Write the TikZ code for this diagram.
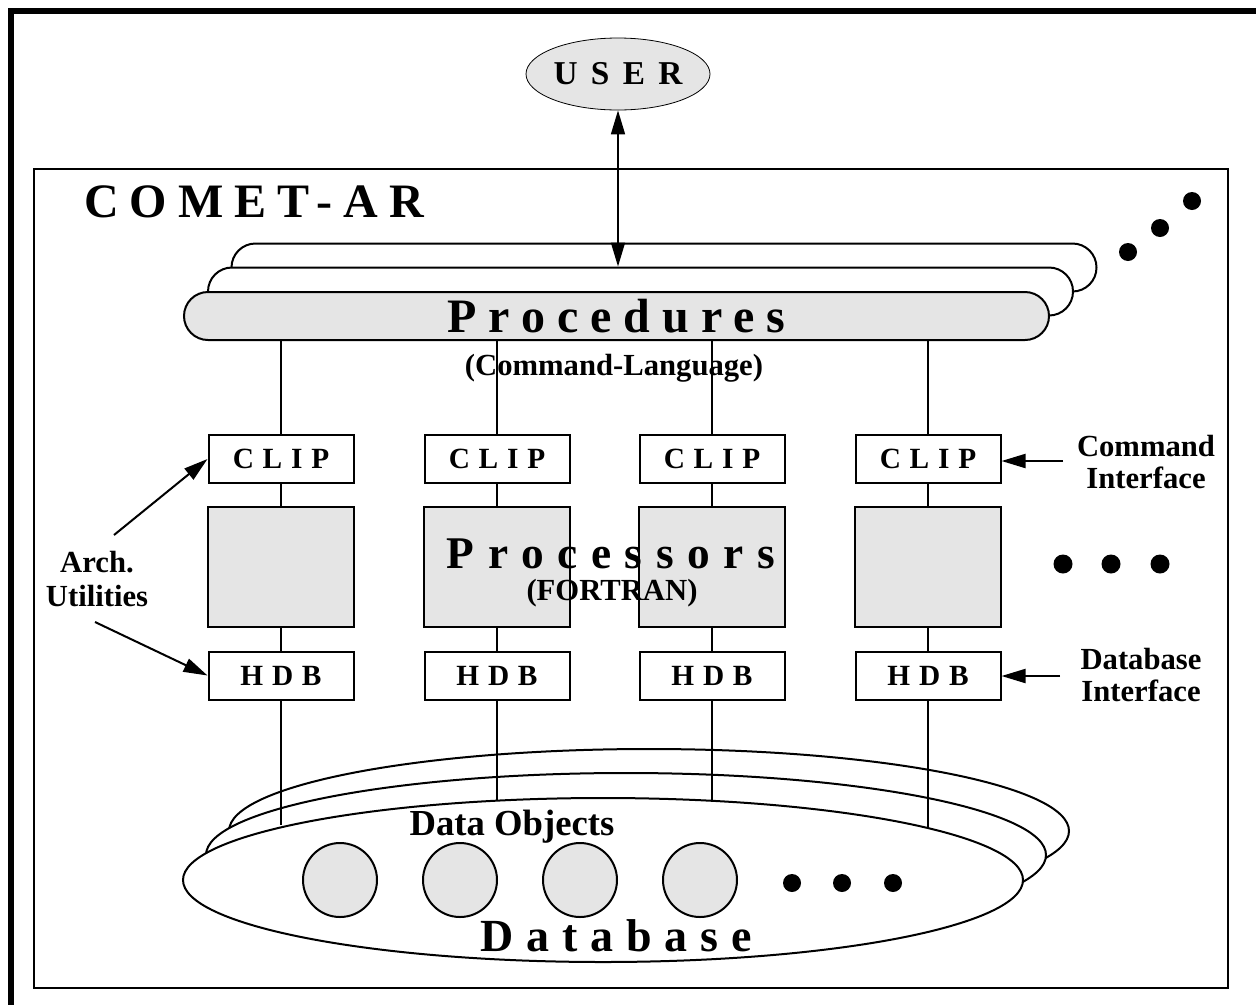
\documentclass[tikz,border=0pt]{standalone}
\usepackage{fontspec}
\setmainfont{Liberation Serif}
\usetikzlibrary{arrows.meta,shapes.geometric}
\definecolor{lgray}{HTML}{E5E5E5}
\newcommand\lsp[2]{{\addfontfeature{LetterSpace=#1}#2}}
\begin{document}
\begin{tikzpicture}[x=0.75pt,y=-0.75pt,
  ribbon/.style={draw, line width=1.5pt, rounded corners=18pt, minimum width=648.75pt, minimum height=36pt, inner sep=0pt},
  ifbox/.style={draw, line width=1.5pt, fill=white, minimum width=108.75pt, minimum height=36pt, inner sep=0pt, font=\bfseries\fontsize{22}{24}\selectfont},
  procbox/.style={fill=lgray, minimum width=108.75pt, minimum height=90pt, inner sep=0pt},
  dbell/.style={ellipse, draw, line width=1.5pt, fill=white, minimum width=630pt, minimum height=123pt, inner sep=0pt},
  obj/.style={circle, draw, line width=1.5pt, fill=lgray, minimum size=55.5pt, inner sep=0pt},
  conn/.style={line width=1pt},
  arr/.style={line width=1.5pt, -{Triangle[length=18pt,width=10.5pt]}},
  txt/.style={font=\bfseries\fontsize{23}{24.5}\selectfont, inner sep=0pt, align=center},
  bigtxt/.style={font=\bfseries\fontsize{36}{38}\selectfont, inner sep=0pt}
]
\useasboundingbox (0,0) rectangle (1256,1004);
% frames
\draw[line width=4pt] (11,1030) -- (11,11) -- (1280,11);
\draw[line width=1.5pt] (34,169) rectangle (1228,988);

% user
\node[ellipse, draw, line width=0.6pt, fill=lgray, minimum width=138pt, minimum height=54pt, inner sep=0pt,
      font=\bfseries\fontsize{25}{26}\selectfont] (user) at (618,74) {\lsp{40}{USER}};

% COMET-AR title
\node[bigtxt, anchor=base west] (title) at (84,217) {\lsp{23}{COMET-AR}};

% procedures ribbons
\node[ribbon, fill=white] (procb) at (664,267.5) {};
\node[ribbon, fill=white] (procm) at (640.5,291.5) {};
\node[ribbon, fill=lgray, bigtxt] (procf) at (616.5,316) {\lsp{25}{Procedures}};

% user arrow
\draw[line width=1.2pt, {Triangle[length=18pt,width=10.5pt]}-{Triangle[length=18pt,width=10.5pt]}]
  (user) -- (user.south |- procm.north);

\node[txt, anchor=base] (cmdlang) at (614,375) {(Command-Language)};

% top-right dots
\fill (1128,252) circle[radius=9];
\fill (1160,228) circle[radius=9];
\fill (1192,201) circle[radius=9];

% database ellipses
\node[dbell] (dbb) at (649,831) {};
\node[dbell] (dbm) at (626,855) {};
\node[dbell] (db) at (603,880) {};

% columns
\foreach \i/\x in {1/281,2/497,3/712,4/928}{
  \node[ifbox] (clip\i) at (\x,459) {\lsp{30}{CLIP}};
  \node[procbox] (pr\i) at (\x,567) {};
  \node[ifbox] (hdb\i) at (\x,675.5) {\lsp{30}{HDB}};
}

% processors label
\node[font=\bfseries\fontsize{34}{36}\selectfont, inner sep=0pt, anchor=base] (ptxt) at (611,568) {\lsp{30}{Processors}};
\node[txt, anchor=base] (ftxt) at (612,600) {(FORTRAN)};
\foreach \i in {1,...,4}{
  \draw[line width=1.5pt] (pr\i.south west) rectangle (pr\i.north east);
}

% connectors
\foreach \i in {1,...,4}{
  \draw[conn] (procf.south -| clip\i.north) -- (clip\i.north);
  \draw[conn] (clip\i.south) -- (pr\i.north);
  \draw[conn] (pr\i.south) -- (hdb\i.north);
}
\foreach \i/\a in {1/170.7,2/143.2,3/36.0,4/9.1}{
  \draw[conn] (hdb\i.south) -- (hdb\i.south |- db.\a);
}

% processor dots
\fill (1063,564) circle[radius=9.5];
\fill (1111,564) circle[radius=9.5];
\fill (1160,564) circle[radius=9.5];

% side labels
\node[txt, font=\bfseries\fontsize{23}{25.5}\selectfont] (arch) at (97,579) {Arch.\\Utilities};
\coordinate (au) at (114,535);
\coordinate (ad) at (95,622);
\draw[arr] (au) -- (clip1.west);
\draw[arr] (ad) -- (hdb1.west);

\node[txt] (cmdif) at (1146,462) {Command\\Interface};
\coordinate (ci) at (1063,461);
\draw[arr] (ci) -- (ci -| clip4.east);

\node[txt] (dbif) at (1141,675) {Database\\Interface};
\coordinate (di) at (1060,676);
\draw[arr] (di) -- (di -| hdb4.east);

% data objects
\node[font=\bfseries\fontsize{27.5}{29}\selectfont, inner sep=0pt, anchor=base] (dotxt) at (512,835) {Data Objects};
\foreach \i/\x in {1/340,2/460,3/580,4/700}{
  \node[obj] (obj\i) at (\x,880) {};
}
\fill (792,883) circle[radius=9];
\fill (842,883) circle[radius=9];
\fill (893,883) circle[radius=9];

\node[font=\bfseries\fontsize{34.5}{36}\selectfont, inner sep=0pt, anchor=base] (dbtxt) at (616,951) {\lsp{28}{Database}};
\end{tikzpicture}
\end{document}
